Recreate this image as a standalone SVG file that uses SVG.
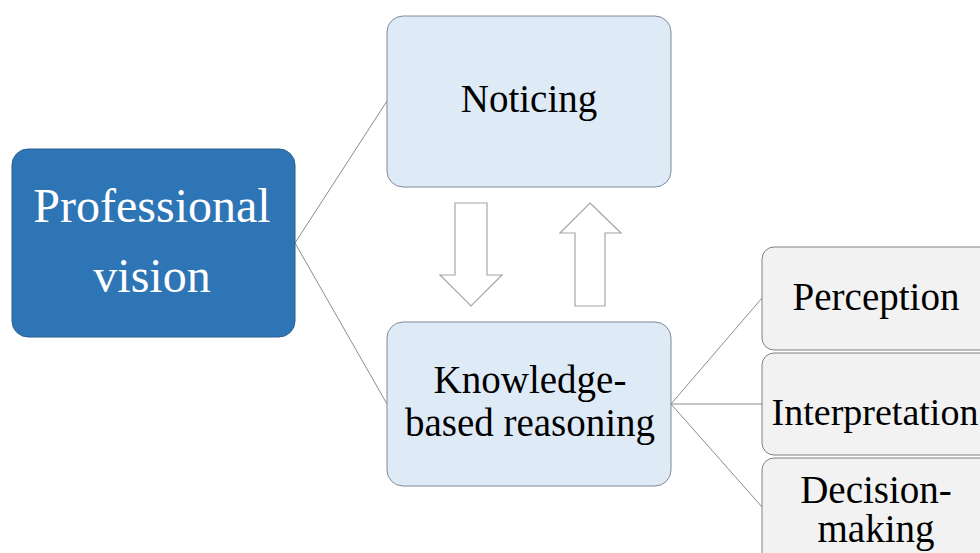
<svg xmlns="http://www.w3.org/2000/svg" width="980" height="553" viewBox="0 0 980 553">
<rect width="980" height="553" fill="#fff"/>
<g id="connectors" stroke="#8c8c8c" stroke-width="1" fill="none">
<line x1="295" y1="243" x2="387" y2="101"/>
<line x1="295" y1="243" x2="387" y2="404"/>
<line x1="671" y1="404" x2="762" y2="298"/>
<line x1="671" y1="404" x2="762" y2="404"/>
<line x1="671" y1="404" x2="762" y2="507"/>
</g>
<g font-family="Liberation Serif" text-anchor="middle">
<g id="professional-vision">
<rect x="12" y="149" width="283" height="188" rx="16" fill="#2E75B6" stroke="#2a5f90" stroke-width="1"/>
<text x="152" y="222" font-size="48" fill="#fff">Professional</text>
<text x="152" y="292" font-size="48" fill="#fff">vision</text>
</g>
<g fill="#DEEAF6" stroke="#7f8a96" stroke-width="1">
<g id="noticing">
<rect x="387" y="16" width="284" height="171" rx="16"/>
<text x="529" y="112" font-size="39" fill="#000" stroke="none">Noticing</text>
</g>
<g id="knowledge">
<rect x="387" y="322" width="284" height="164" rx="16"/>
<text x="530" y="393" font-size="39" fill="#000" stroke="none">Knowledge-</text>
<text x="530" y="436" font-size="39" fill="#000" stroke="none">based reasoning</text>
</g>
</g>
<g fill="#fff" stroke="#a6a6a6" stroke-width="1.2">
<g id="arrow-down">
<polygon points="455,203 487,203 487,275 502,275 471,306 440,275 455,275"/>
</g>
<g id="arrow-up">
<polygon points="590,203 621,233 605,233 605,306 575,306 575,233 560,233"/>
</g>
</g>
<g fill="#F2F2F2" stroke="#808080" stroke-width="1">
<g id="perception">
<rect x="762" y="247" width="240" height="103" rx="12"/>
<text x="876" y="310" font-size="39" fill="#000" stroke="none">Perception</text>
</g>
<g id="interpretation">
<rect x="762" y="353" width="240" height="102" rx="12"/>
<text x="875" y="425" font-size="38" fill="#000" stroke="none">Interpretation</text>
</g>
<g id="decision-making">
<rect x="762" y="458" width="240" height="120" rx="12"/>
<text x="876" y="503" font-size="39" fill="#000" stroke="none">Decision-</text>
<text x="876" y="542" font-size="39" fill="#000" stroke="none">making</text>
</g>
</g>
</g>
</svg>
